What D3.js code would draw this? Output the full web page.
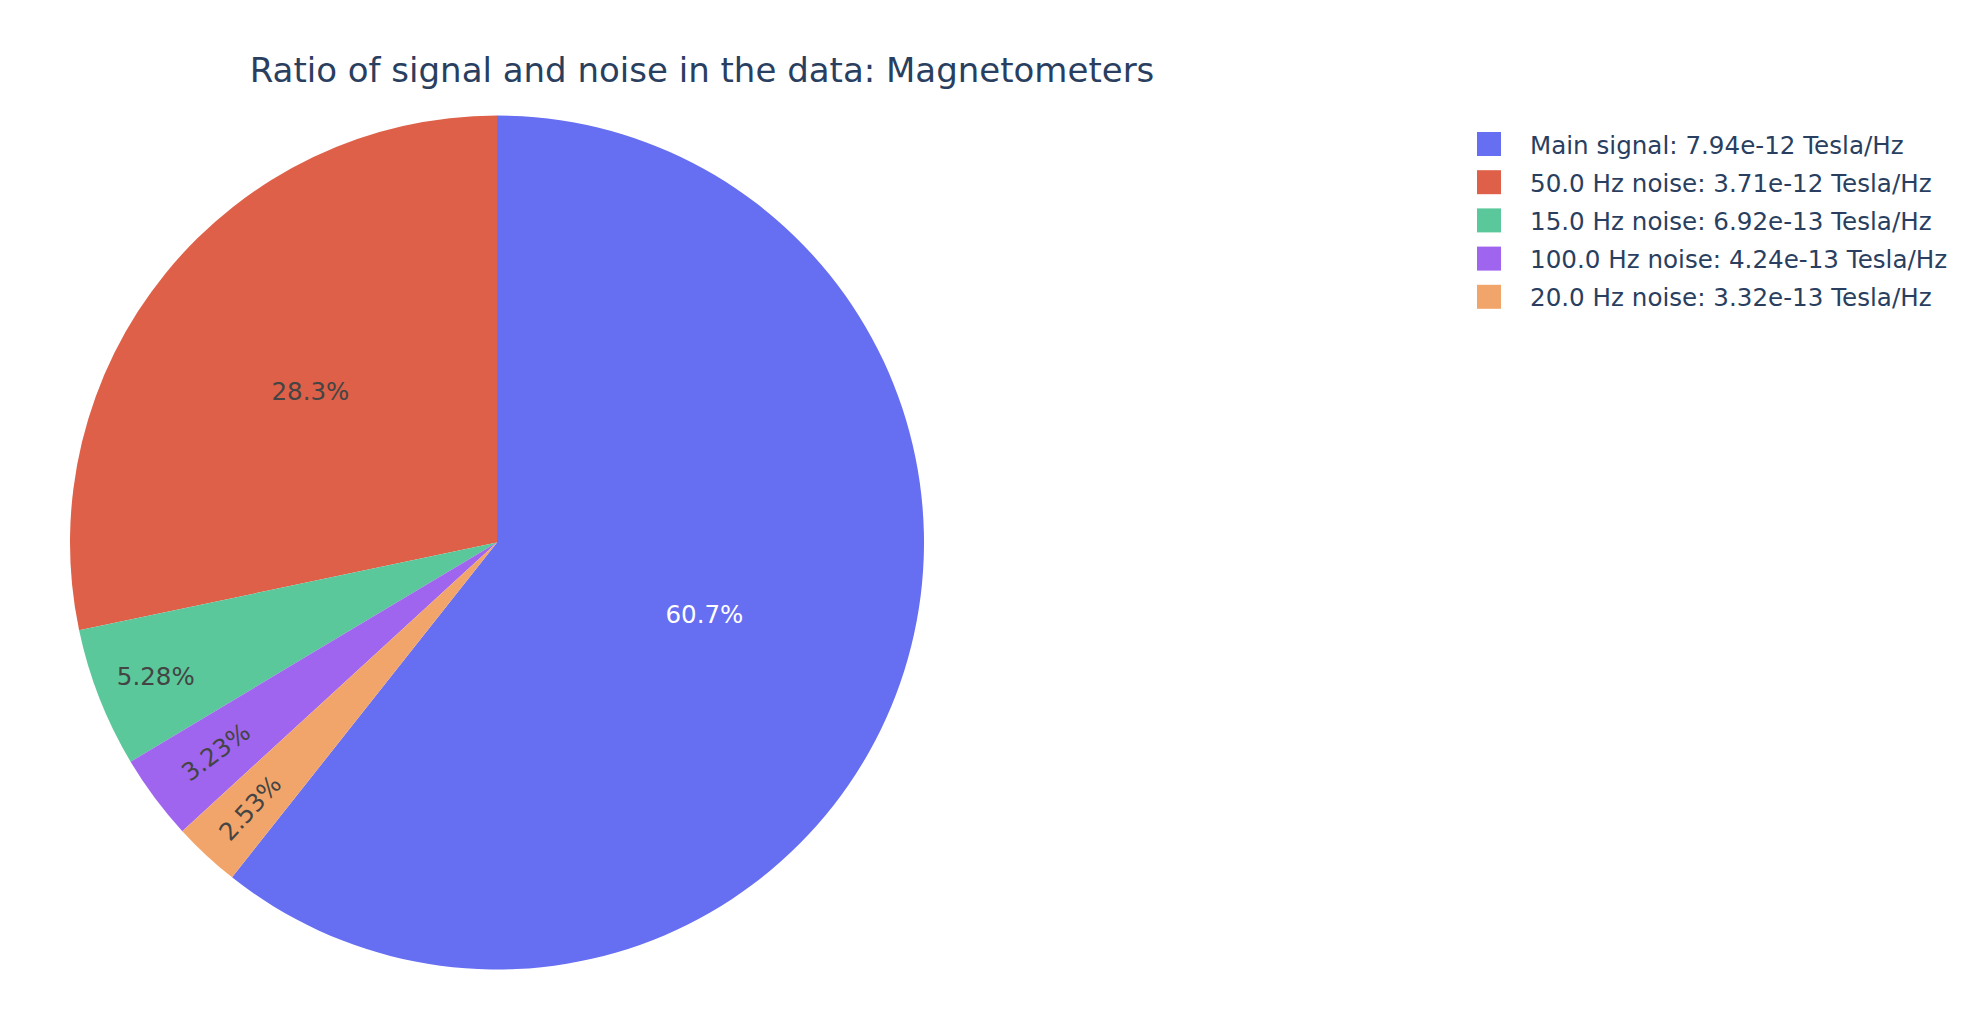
<!DOCTYPE html>
<html><head><meta charset="utf-8">
<script src="https://cdn.jsdelivr.net/npm/d3@7"></script>
<style>body{margin:0;background:#fff}</style></head>
<body>
<svg id="chart" width="1964" height="1018"></svg>
<script>
// ---- data ----
const categories = ["Main signal", "50.0 Hz noise", "15.0 Hz noise", "100.0 Hz noise", "20.0 Hz noise"];
const values = [7.944e-12, 3.706e-12, 6.92e-13, 4.236e-13, 3.316e-13];
const unit = "Tesla/Hz";
const colors = ["#666ef2", "#de6048", "#5ac89a", "#a065ee", "#f2a56a"];
const titleText = "Ratio of signal and noise in the data: Magnetometers";

// ---- layout ----
const W = 1964, H = 1018;
const cx = 497, cy = 542.5, R = 427;
const FONT = "'DejaVu Sans', Verdana, sans-serif";
const svg = d3.select("#chart");
svg.append("rect").attr("width", W).attr("height", H).attr("fill", "#fff");

const total = d3.sum(values);
const theta0 = 2 * Math.PI * values[0] / total;
// counterclockwise like plotly: first slice ends at 12 o'clock
const pie = d3.pie().sort(null).value(d => d.v)
  .startAngle(theta0).endAngle(theta0 - 2 * Math.PI);
const data = categories.map((c, i) => ({name: c, v: values[i], color: colors[i]}));
const arcs = pie(data);
const arcGen = d3.arc().innerRadius(0).outerRadius(R);

const g = svg.append("g").attr("transform", `translate(${cx},${cy})`);
g.selectAll("path.slice").data(arcs).join("path")
  .attr("class", "slice")
  .attr("d", arcGen)
  .attr("fill", d => d.data.color);

const pctFmt = d3.format(".3p");
function brightness(c) { const r = d3.rgb(c); return (r.r * 299 + r.g * 587 + r.b * 114) / 1000; }

arcs.forEach(a => {
  const mid = (a.startAngle + a.endAngle) / 2;
  const half = Math.abs(a.endAngle - a.startAngle) / 2;
  const t = g.append("text")
    .attr("font-family", FONT).attr("font-size", 24.5)
    .attr("fill", brightness(a.data.color) < 128 ? "#fff" : "#444")
    .text(pctFmt(a.data.v / total));
  const bb = t.node().getBBox();
  const diam = Math.sqrt(bb.width * bb.width + bb.height * bb.height);
  const rIns = Math.min(1 / (1 + 1 / Math.sin(half)), 0.5);
  let tr = {scale: rIns * R * 2 / diam, rCenter: 1 - rIns, rotate: 0};
  if (tr.scale < 1) {
    const aspect = bb.width / bb.height;
    const Qr = aspect + 1 / (2 * Math.tan(half));
    const mhh = R * Math.min(1 / (Math.sqrt(Qr * Qr + 0.5) + Qr), 1 / (Math.sqrt(aspect * aspect + 0.5) + aspect));
    const deg = 180 / Math.PI * mid;
    const radial = {scale: mhh * 2 / bb.height, rCenter: Math.cos(mhh / R) - mhh * aspect / R,
      rotate: (((deg + 720) % 180) + 180) % 180 - 90};
    const inv = 1 / aspect;
    const Qt = inv + 1 / (2 * Math.tan(half));
    const mhw = R * Math.min(1 / (Math.sqrt(Qt * Qt + 0.5) + Qt), 1 / (Math.sqrt(inv * inv + 0.5) + inv));
    const tang = {scale: mhw * 2 / bb.width, rCenter: Math.cos(mhw / R) - mhw / aspect / R,
      rotate: (((deg + 810) % 180) + 180) % 180 - 90};
    const rot = tang.scale > radial.scale ? tang : radial;
    if (rot.scale > tr.scale) tr = rot;
  }
  const s = Math.min(1, tr.scale);
  const tx = tr.rCenter * R * Math.sin(mid);
  const ty = -tr.rCenter * R * Math.cos(mid);
  const bcx = bb.x + bb.width / 2, bcy = bb.y + bb.height / 2;
  t.attr("transform", `translate(${tx},${ty}) rotate(${tr.rotate}) scale(${s}) translate(${-bcx},${-bcy})`);
});

// ---- title ----
svg.append("text")
  .attr("x", 702).attr("y", 82)
  .attr("text-anchor", "middle")
  .attr("font-family", FONT).attr("font-size", 34)
  .attr("fill", "#2a3f5f")
  .text(titleText);

// ---- legend ----
const legend = svg.append("g").attr("transform", "translate(1477,144)");
const rowH = 38.2;
const item = legend.selectAll("g").data(data).join("g")
  .attr("transform", (d, i) => `translate(0,${i * rowH})`);
item.append("rect").attr("x", 0).attr("y", -12).attr("width", 24).attr("height", 24)
  .attr("fill", d => d.color);
item.append("text").attr("x", 53).attr("y", 9.5)
  .attr("font-family", FONT).attr("font-size", 24.6).attr("fill", "#2a3f5f")
  .text(d => `${d.name}: ${d.v.toExponential(2)} ${unit}`);
</script>
</body></html>
